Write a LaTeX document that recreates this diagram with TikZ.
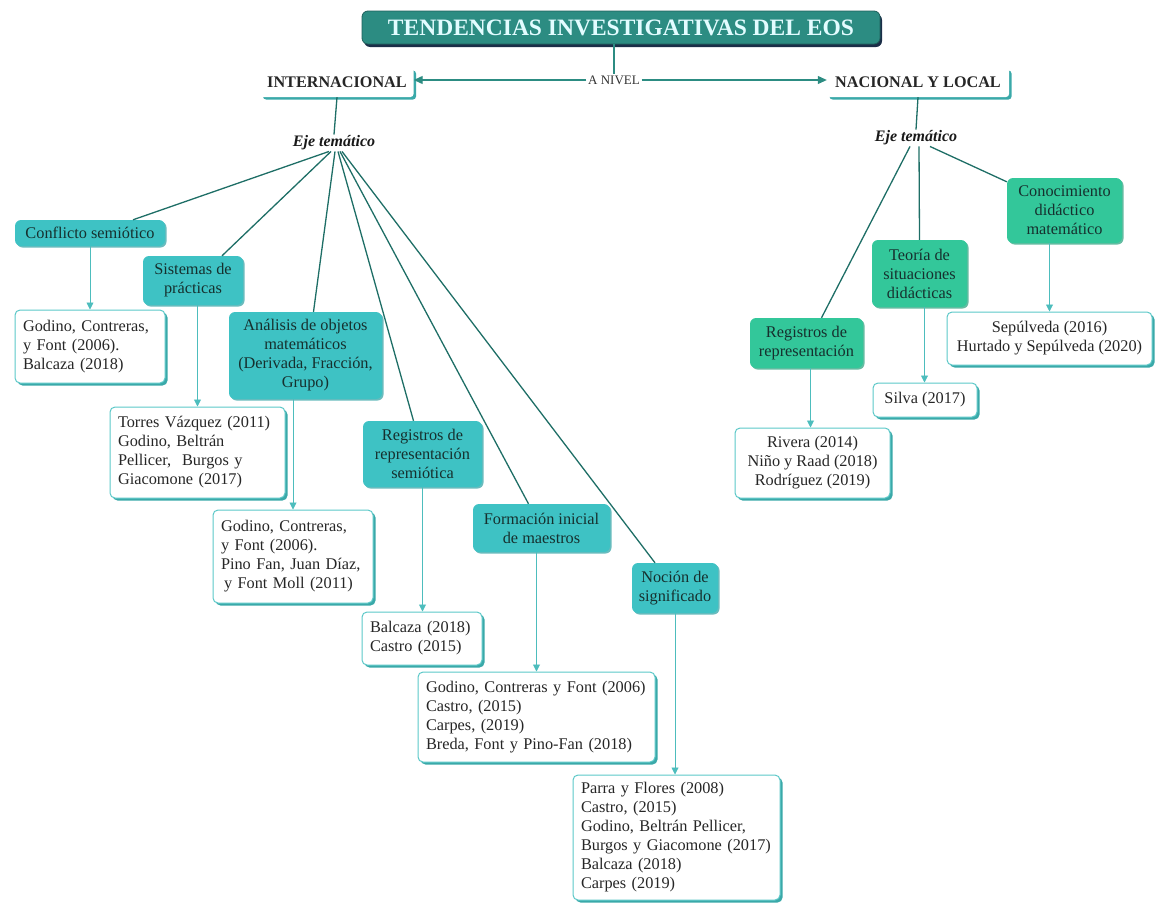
\documentclass[tikz,border=0pt]{standalone}
\usepackage{fontspec}
\setmainfont{Liberation Serif}
\usetikzlibrary{arrows.meta,shadows}
\definecolor{turq}{HTML}{3EC2C4}
\definecolor{turqd}{HTML}{2A9FA2}
\definecolor{grn}{HTML}{33C79A}
\definecolor{grnd}{HTML}{23A07A}
\definecolor{eln}{HTML}{1E6E66}
\definecolor{aln}{HTML}{4DBDBD}
\definecolor{refb}{HTML}{5CC8C8}
\definecolor{refs}{HTML}{3AA9A9}
\definecolor{ttlf}{HTML}{2C8C82}
\definecolor{ttlb}{HTML}{1E5F5B}
\definecolor{ttls}{HTML}{1B2E48}
\definecolor{ttlt}{HTML}{E2FCFF}
\definecolor{txt}{HTML}{16302E}
\newcommand\bxfont{\fontsize{16.3}{19}\selectfont}
\begin{document}
\begin{tikzpicture}[x=1pt,y=-1pt,
  title/.style={fill=ttlf, draw=ttlb, line width=0.8pt, rounded corners=6pt, text=ttlt,
    font=\fontsize{23.5}{26}\selectfont\bfseries,
    drop shadow={shadow xshift=2pt, shadow yshift=-3pt, fill=ttls, opacity=1}},
  lvl/.style={fill=white, text=black!85, font=\fontsize{16.2}{19}\selectfont\bfseries,
    rounded corners=3pt,
    drop shadow={shadow xshift=2.5pt, shadow yshift=-2.5pt, fill=refs, opacity=1}},
  eje/.style={text=black!90, font=\fontsize{16}{19}\selectfont\bfseries\itshape, inner sep=1pt},
  topicL/.style={fill=turq, rounded corners=6pt, align=center, font=\bxfont, text=txt, inner sep=2pt,
    drop shadow={shadow xshift=1.5pt, shadow yshift=-1.5pt, fill=turqd, opacity=0.7}},
  topicR/.style={fill=grn, rounded corners=6pt, align=center, font=\bxfont, text=txt, inner sep=2pt,
    drop shadow={shadow xshift=1.5pt, shadow yshift=-1.5pt, fill=grnd, opacity=0.7}},
  ref/.style={fill=white, draw=refb, line width=1pt, rounded corners=5pt, font=\bxfont,
    text=black!85, inner xsep=8pt, inner ysep=3pt,
    drop shadow={shadow xshift=2.5pt, shadow yshift=-2.5pt, fill=refs, opacity=1}},
  refL/.style={ref, align=left},
  refC/.style={ref, align=center},
  eline/.style={draw=eln, line width=1.3pt},
  arr/.style={draw=aln, line width=0.9pt, -{Triangle[length=7pt,width=7pt]}},
  harr/.style={draw=ttlf, line width=1.2pt, -{Triangle[length=9pt,width=8pt]}},
  hline/.style={draw=ttlf, line width=1.2pt}
]
\useasboundingbox (0,0) rectangle (1155,902);

% top level
\node[title, minimum width=518pt, minimum height=33pt] (title) at (621,27.5) {TENDENCIAS INVESTIGATIVAS DEL EOS};
\node[lvl, minimum width=153pt, minimum height=29pt] (intl) at (337,82.5) {INTERNACIONAL};
\node[lvl, minimum width=182pt, minimum height=29pt] (nac) at (918,82.5) {NACIONAL Y LOCAL};
\node[font=\fontsize{13}{15}\selectfont, text=black!80, fill=white, inner sep=1.5pt] (niv) at (614,80) {A NIVEL};
\draw[hline] (niv.north) -- (niv.north |- title.south);
\draw[harr] (niv.west) -- (niv.west -| intl.east);
\draw[harr] (niv.east) -- (niv.east -| nac.west);

\node[eje] (ejeL) at (334,143) {Eje temático};
\node[eje] (ejeR) at (916,138) {Eje temático};
\draw[eline] (intl.south) -- (ejeL.north);
\draw[eline] (nac.south) -- (ejeR.north);

% international topics
\node[topicL, minimum width=150pt, minimum height=26pt] (T1) at (90,233) {Conflicto semiótico};
\node[topicL, minimum width=100pt, minimum height=49pt] (T2) at (193,280.5) {Sistemas de\\prácticas};
\node[topicL, minimum width=153pt, minimum height=87pt] (T3) at (305.5,355.5) {Análisis de objetos\\matemáticos\\(Derivada, Fracción,\\Grupo)};
\node[topicL, minimum width=119pt, minimum height=66pt] (T4) at (422.5,454) {Registros de\\representación\\semiótica};
\node[topicL, minimum width=137pt, minimum height=48pt] (T5) at (541.5,528) {Formación inicial\\de maestros};
\node[topicL, minimum width=86pt, minimum height=50pt] (T6) at (675,588) {Noción de\\significado};

\draw[eline] ([xshift=-5pt]ejeL.south) -- ([xshift=43pt]T1.north);
\draw[eline] ([xshift=-3pt]ejeL.south) -- ([xshift=29pt]T2.north);
\draw[eline] ([xshift=1pt]ejeL.south) -- ([xshift=8pt]T3.north);
\draw[eline] ([xshift=4pt]ejeL.south) -- ([xshift=-9pt]T4.north);
\draw[eline] ([xshift=6pt]ejeL.south) -- ([xshift=-13pt]T5.north);
\draw[eline] ([xshift=8pt]ejeL.south) -- ([xshift=-20pt]T6.north);

% international references
\node[refL, text width=134pt, minimum height=73pt] (R1) at (90,346.5) {Godino, Contreras,\\y Font (2006).\\Balcaza (2018)};
\node[refL, text width=159pt, minimum height=91pt] (R2) at (197.5,452.5) {Torres Vázquez (2011)\\Godino, Beltrán\\Pellicer,~ Burgos y\\Giacomone (2017)};
\node[refL, text width=144pt, minimum height=93pt] (R3) at (293,556.5) {Godino, Contreras,\\y Font (2006).\\Pino Fan, Juan Díaz,\\\hspace*{3pt}y Font Moll (2011)};
\node[refL, text width=104pt, minimum height=53pt] (R4) at (422,638.5) {Balcaza (2018)\\Castro (2015)};
\node[refL, text width=221pt, minimum height=90pt] (R5) at (536.5,717) {Godino, Contreras y Font (2006)\\Castro, (2015)\\Carpes, (2019)\\Breda, Font y Pino-Fan (2018)};
\node[refL, text width=191pt, minimum height=125pt] (R6) at (676.5,837.5) {Parra y Flores (2008)\\Castro, (2015)\\Godino, Beltrán Pellicer,\\Burgos y Giacomone (2017)\\Balcaza (2018)\\Carpes (2019)};

\draw[arr] (T1.south) -- (R1.north);
\draw[arr] (T2.south -| R2.north) -- (R2.north);
\draw[arr] (T3.south -| R3.north) -- (R3.north);
\draw[arr] (T4.south) -- (T4.south |- R4.north);
\draw[arr] (T5.south -| R5.north) -- (R5.north);
\draw[arr] (T6.south) -- (T6.south |- R6.north);

% national topics
\node[topicR, minimum width=113pt, minimum height=50pt] (G1) at (806.5,343) {Registros de\\representación};
\node[topicR, minimum width=95pt, minimum height=67pt] (G2) at (919.5,273.5) {Teoría de\\situaciones\\didácticas};
\node[topicR, minimum width=115pt, minimum height=65pt] (G3) at (1064.5,210.5) {Conocimiento\\didáctico\\matemático};

\draw[eline] ([xshift=-6pt]ejeR.south) -- ([xshift=15pt]G1.north);
\draw[eline] ([xshift=3pt]ejeR.south) -- (G2.north);
\draw[eline] ([xshift=14pt]ejeR.south) -- ([yshift=-4pt]G3.north west);

% national references
\node[refC, minimum width=155pt, minimum height=70pt] (S1) at (812.5,463) {Rivera (2014)\\Niño y Raad (2018)\\Rodríguez (2019)};
\node[refC, minimum width=104pt, minimum height=34pt] (S2) at (925,400) {Silva (2017)};
\node[refC, minimum width=205pt, minimum height=53pt] (S3) at (1049.5,338.5) {Sepúlveda (2016)\\Hurtado y Sepúlveda (2020)};

\draw[arr] ([xshift=4pt]G1.south) -- ([xshift=4pt]G1.south |- S1.north);
\draw[arr] ([xshift=5pt]G2.south) -- ([xshift=5pt]G2.south |- S2.north);
\draw[arr] (S3.north |- G3.south) -- (S3.north);
\end{tikzpicture}
\end{document}
